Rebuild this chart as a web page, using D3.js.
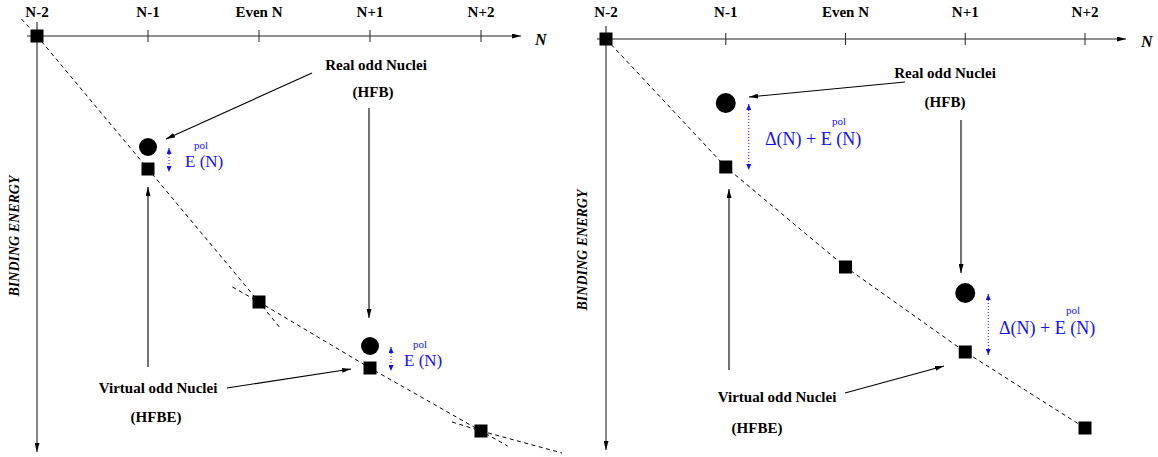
<!DOCTYPE html>
<html><head><meta charset="utf-8">
<script src="https://cdn.jsdelivr.net/npm/d3@7"></script>
<style>
html,body{margin:0;padding:0;background:#fff;}
svg{display:block;}
text{font-family:"Liberation Serif","Times New Roman",serif;}
</style></head>
<body>
<svg id="chart" width="1158" height="457"></svg>
<script>
// ---------- data ----------
const tickLabels = ["N-2", "N-1", "Even N", "N+1", "N+2"];
const nValues = [-2, -1, 0, 1, 2];

// left panel (arbitrary binding-energy units, downwards negative)
const leftVirtualE = [0, -13.3, -26.6, -33.2, -39.5];
const leftRealN = [-1, 1];
const leftRealE = [-11.1, -31.0];
// left dashed guide segments (N, E)
const leftDashA_N = [-2.14, -2, -1, 0, 0.19];
const leftDashA_E = [1.7, 0, -13.3, -26.6, -29.2];
const leftDashB_N = [-0.24, 0, 1, 2, 2.24];
const leftDashB_E = [-25.1, -26.6, -33.2, -39.5, -41.0];
const leftDashC_N = [1.74, 2, 2.73];
const leftDashC_E = [-38.6, -39.5, -41.7];

// right panel
const rightVirtualE = [0, -12.8, -22.8, -31.3, -38.9];
const rightRealN = [-1, 1];
const rightRealE = [-6.4, -25.4];

// ---------- drawing ----------
const svg = d3.select("#chart");
const defs = svg.append("defs");
function marker(id, color, len, wid) {
  defs.append("marker").attr("id", id)
    .attr("markerUnits", "userSpaceOnUse")
    .attr("markerWidth", len).attr("markerHeight", wid)
    .attr("refX", len).attr("refY", wid / 2)
    .attr("orient", "auto-start-reverse")
    .append("path").attr("d", `M0,0L${len},${wid/2}L0,${wid}Z`).attr("fill", color);
}
marker("ab", "#000", 9, 5);
marker("bb", "#1010ff", 6, 5);

const pairs = (a, b) => a.map((v, i) => [v, b[i]]);

function panel(cfg) {
  const g = svg.append("g");
  const x = d3.scaleLinear().domain([-2, 2]).range(cfg.xr);
  const y = d3.scaleLinear().domain([0, -10]).range([cfg.y0, cfg.y0 + cfg.pxPer10]);
  const line = d3.line().x(d => x(d[0])).y(d => y(d[1]));

  // axes
  g.append("line").attr("x1", cfg.axX0).attr("x2", cfg.axX1).attr("y1", y(0)).attr("y2", y(0))
    .attr("stroke", "#222").attr("stroke-width", 1.1).attr("marker-end", "url(#ab)");
  g.append("line").attr("x1", x(-2)).attr("x2", x(-2)).attr("y1", cfg.axY0).attr("y2", cfg.axY1)
    .attr("stroke", "#222").attr("stroke-width", 1.1).attr("marker-end", "url(#ab)");
  // ticks
  g.selectAll(".tk").data(nValues.slice(1)).enter().append("line")
    .attr("x1", d => x(d)).attr("x2", d => x(d)).attr("y1", y(0) - 6).attr("y2", y(0) + 6)
    .attr("stroke", "#333").attr("stroke-width", 1.1);
  g.selectAll(".tl").data(tickLabels).enter().append("text")
    .attr("x", (d, i) => x(nValues[i])).attr("y", 17).attr("text-anchor", "middle")
    .attr("font-weight", "bold").attr("font-size", 15).text(d => d);
  g.append("text").attr("x", cfg.nLab[0]).attr("y", cfg.nLab[1]).attr("font-style", "italic")
    .attr("font-weight", "bold").attr("font-size", 16).text("N");
  g.append("text").attr("transform", `translate(${cfg.beLab[0]},${cfg.beLab[1]}) rotate(-90)`)
    .attr("text-anchor", "middle").attr("font-style", "italic").attr("font-weight", "bold")
    .attr("font-size", 14).text("BINDING ENERGY");

  // dashed lines
  cfg.dashes.forEach(pts => {
    g.append("path").attr("d", line(pts)).attr("fill", "none").attr("stroke", "#000")
      .attr("stroke-width", 1).attr("stroke-dasharray", "4,3.5");
  });

  // squares
  const s = 13;
  g.selectAll(".sq").data(pairs(nValues, cfg.virtE)).enter().append("rect")
    .attr("x", d => x(d[0]) - s / 2).attr("y", d => y(d[1]) - s / 2)
    .attr("width", s).attr("height", s).attr("fill", "#000");
  // circles
  g.selectAll(".ci").data(pairs(cfg.realN, cfg.realE)).enter().append("circle")
    .attr("cx", d => x(d[0])).attr("cy", d => y(d[1])).attr("r", cfg.r).attr("fill", "#000");

  // blue double arrows and labels
  cfg.realN.forEach((n, i) => {
    const idx = nValues.indexOf(n);
    const ax = x(n) + cfg.bOff;
    g.append("line").attr("x1", ax).attr("x2", ax)
      .attr("y1", y(cfg.realE[i]) + 1).attr("y2", y(cfg.virtE[idx]) + 3)
      .attr("stroke", "#1010ff").attr("stroke-width", 1).attr("stroke-dasharray", "1,2")
      .attr("marker-start", "url(#bb)").attr("marker-end", "url(#bb)");
    const lab = cfg.blueLab[i];
    g.append("text").attr("x", lab[0]).attr("y", lab[1]).attr("fill", "#1010ff")
      .attr("font-size", cfg.bFs).text(cfg.blueText);
    g.append("text").attr("x", lab[0] + cfg.polOff).attr("y", lab[1] - cfg.polDy).attr("fill", "#1010ff")
      .attr("font-size", 11).text("pol");
  });

  // annotations
  cfg.labels.forEach(l => {
    g.append("text").attr("x", l[1]).attr("y", l[2]).attr("text-anchor", "middle")
      .attr("font-weight", "bold").attr("font-size", 15).text(l[0]);
  });
  cfg.arrows.forEach(a => {
    g.append("line").attr("x1", a[0]).attr("y1", a[1]).attr("x2", a[2]).attr("y2", a[3])
      .attr("stroke", "#000").attr("stroke-width", 1.1).attr("marker-end", "url(#ab)");
  });
}

panel({
  xr: [37, 481], y0: 36, pxPer10: 100,
  axX0: 27, axX1: 521, axY0: 22, axY1: 452,
  nLab: [535, 45], beLab: [19, 236],
  virtE: leftVirtualE, realN: leftRealN, realE: leftRealE, r: 9,
  dashes: [pairs(leftDashA_N, leftDashA_E), pairs(leftDashB_N, leftDashB_E), pairs(leftDashC_N, leftDashC_E)],
  bOff: 21, blueText: "E (N)", bFs: 17, polOff: 9, polDy: 18,
  blueLab: [[185, 167], [404, 366]],
  labels: [["Real odd Nuclei", 376, 70], ["(HFB)", 373, 97],
           ["Virtual odd Nuclei", 158, 393], ["(HFBE)", 156, 422]],
  arrows: [[312, 73, 166, 139], [369, 108, 369, 318], [227, 388, 351, 369], [148, 367, 148, 187]]
});

panel({
  xr: [606, 1085], y0: 39, pxPer10: 100,
  axX0: 597, axX1: 1126, axY0: 26, axY1: 450,
  nLab: [1141, 47], beLab: [587, 250],
  virtE: rightVirtualE, realN: rightRealN, realE: rightRealE, r: 10,
  dashes: [pairs(nValues, rightVirtualE)],
  bOff: 23, blueText: "Δ(N) + E (N)", bFs: 18, polOff: 67, polDy: 20,
  blueLab: [[765, 145], [999, 334]],
  labels: [["Real odd Nuclei", 945, 78], ["(HFB)", 945, 107],
           ["Virtual odd Nuclei", 777, 402], ["(HFBE)", 757, 433]],
  arrows: [[905, 82, 749, 97], [961, 120, 961, 273], [845, 393, 944, 366], [729, 370, 729, 189]]
});
</script>
</body></html>
